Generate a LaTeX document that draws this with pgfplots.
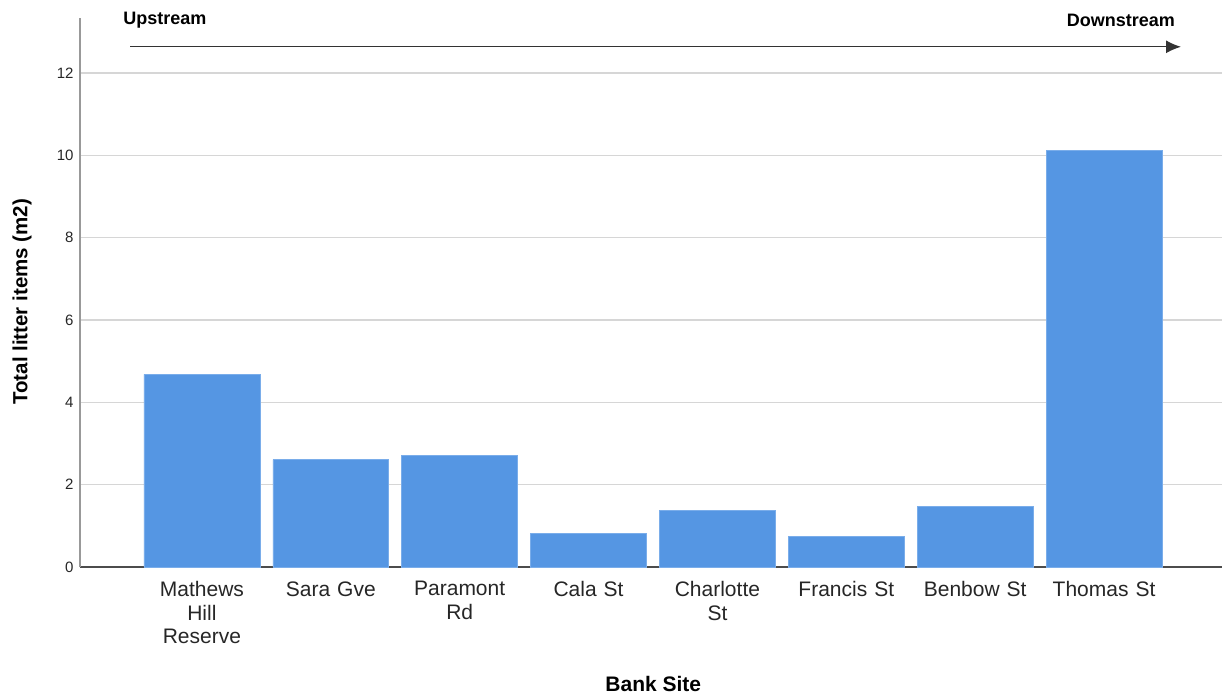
\documentclass[border=0pt]{standalone}
\usepackage{pgfplots}
\pgfplotsset{compat=1.18}
\usetikzlibrary{arrows.meta}
\usepackage{fontspec}
\setmainfont{Liberation Sans}
\definecolor{barblue}{HTML}{5596E3}
\definecolor{baredge}{HTML}{7AADEA}
\definecolor{gridgray}{HTML}{D6D6D6}
\begin{document}
\begin{tikzpicture}[x=1pt,y=1pt]
\path[use as bounding box] (-80,-128) rectangle (1142,567);
\begin{axis}[
  at={(0,0)}, anchor=south west,
  scale only axis, width=1142pt, height=549pt,
  xmin=-0.946, xmax=7.915, ymin=0, ymax=13.34,
  axis x line*=bottom, axis y line*=left,
  x axis line style={draw=black!70, line width=1.2pt, -},
  y axis line style={draw=black!40, line width=1.5pt, -},
  xtick=data,
  xticklabels={{Mathews\\Hill\\Reserve},{Sara Gve},{Paramont\\Rd},{Cala St},{Charlotte\\St},{Francis St},{Benbow St},{Thomas St}},
  xticklabel style={font=\fontsize{21}{23.5}\selectfont, align=center, text width=120pt, anchor=north, yshift=-11pt, text=black!85},
  ytick={0,2,...,12},
  yticklabel style={font=\fontsize{15}{17}\selectfont, text=black!85, xshift=-3pt},
  /pgf/number format/assume math mode=true,
  major tick length=0pt,
  ymajorgrids, grid style={draw=gridgray, line width=1.4pt},
  xlabel={Bank Site},
  xlabel style={font=\bfseries\fontsize{21}{24}\selectfont, at={(axis description cs:0.502,0)}, anchor=center, yshift=-117pt},
  ylabel={Total litter items (m2)},
  ylabel style={font=\bfseries\fontsize{20.5}{24}\selectfont, at={(axis description cs:0,0.483)}, anchor=center, yshift=58pt},
  clip=false,
]
\addplot[ybar, bar width=0.899, fill=barblue, draw=baredge, line width=0.6pt] coordinates {
  (0,4.68) (1,2.61) (2,2.71) (3,0.81) (4,1.37) (5,0.75) (6,1.47) (7,10.12)
};
\draw[black!80, line width=1.3pt, -{Latex[length=15pt,width=13pt]}] (axis cs:-0.558,12.64) -- (axis cs:7.597,12.64);
\node[font=\bfseries\fontsize{18}{20}\selectfont, anchor=center] at (axis cs:-0.287,13.29) {Upstream};
\node[font=\bfseries\fontsize{18}{20}\selectfont, anchor=center] at (axis cs:7.13,13.29) {Downstream};
\end{axis}
\end{tikzpicture}
\end{document}
